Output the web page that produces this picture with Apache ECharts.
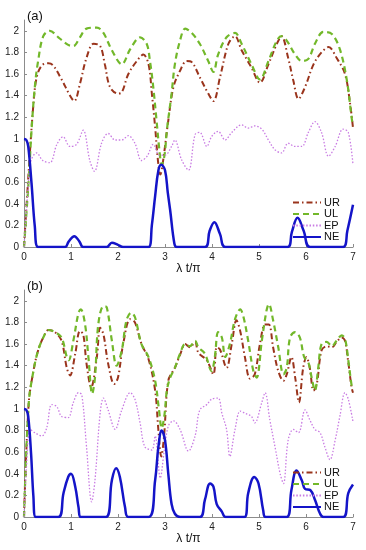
<!DOCTYPE html>
<html><head><meta charset="utf-8">
<script src="https://cdn.jsdelivr.net/npm/echarts@6/dist/echarts.min.js"></script>
<style>html,body{margin:0;padding:0;background:#fff}#c{width:366px;height:550px}</style>
</head><body><div id="c"></div>
<script>
// ---------- Panel (a) ----------
const a_UR_x = [0,0.1,0.2,0.27,0.38,0.52,0.62,0.8,0.98,1.07,1.19,1.33,1.48,1.62,1.72,1.83,2.0,2.08,2.22,2.4,2.54,2.65,2.72,2.79,2.85,2.9,2.96,3.07,3.18,3.32,3.46,3.57,3.74,3.92,4.03,4.17,4.35,4.49,4.63,4.84,5.02,5.2,5.38,5.48,5.62,5.73,5.84,5.98,6.16,6.33,6.48,6.65,6.83,6.94,7];
const a_UR_y = [0,0.7,1.32,1.57,1.68,1.70,1.68,1.55,1.40,1.35,1.51,1.75,1.88,1.86,1.69,1.48,1.42,1.43,1.60,1.72,1.78,1.69,1.42,1.11,0.8,0.67,0.8,1.17,1.48,1.63,1.72,1.71,1.57,1.42,1.35,1.57,1.88,1.95,1.82,1.66,1.52,1.69,1.88,1.95,1.75,1.54,1.37,1.48,1.69,1.80,1.85,1.75,1.60,1.32,1.1];
const a_UL_x = [0,0.1,0.16,0.23,0.3,0.41,0.55,0.73,0.94,1.05,1.19,1.33,1.55,1.69,1.87,2.08,2.26,2.47,2.61,2.68,2.75,2.82,2.88,2.93,2.99,3.04,3.14,3.21,3.32,3.43,3.57,3.74,3.92,4.03,4.13,4.31,4.49,4.63,4.84,5.02,5.2,5.38,5.48,5.59,5.77,5.91,6.05,6.19,6.37,6.55,6.72,6.87,6.97,7];
const a_UL_y = [0,0.62,1.08,1.48,1.72,1.95,2.0,1.94,1.87,1.86,1.94,2.02,2.03,1.98,1.82,1.69,1.83,1.94,1.88,1.72,1.48,1.17,0.9,0.76,0.85,1.08,1.42,1.69,1.91,2.02,1.98,1.88,1.72,1.62,1.78,1.94,1.98,1.88,1.69,1.55,1.72,1.91,1.95,1.91,1.78,1.72,1.74,1.88,1.99,1.97,1.83,1.54,1.2,1.12];
const a_EP_x = [0,0.08,0.15,0.27,0.4,0.55,0.7,0.83,0.98,1.12,1.26,1.4,1.5,1.65,1.79,1.94,2.08,2.22,2.36,2.5,2.62,2.75,2.88,3.0,3.14,3.21,3.35,3.5,3.64,3.74,3.89,3.99,4.13,4.28,4.42,4.63,4.77,4.91,5.06,5.2,5.34,5.48,5.62,5.77,5.91,6.05,6.19,6.33,6.48,6.62,6.79,6.9,7];
const a_EP_y = [0,0.5,0.8,0.87,0.8,0.78,0.95,1.02,0.93,0.95,1.08,0.8,0.7,0.96,1.05,0.99,0.99,1.03,0.96,0.8,0.84,0.95,0.85,0.85,0.93,0.99,0.81,0.71,1.04,1.06,0.93,1.02,1.07,0.99,1.06,1.13,1.10,1.12,1.09,0.99,0.90,0.87,0.96,0.93,0.93,1.06,1.16,1.06,0.84,0.93,1.09,1.06,0.76];
const a_NE_x = [0,0.05,0.09,0.16,0.23,0.3,0.87,0.95,1.07,1.18,1.26,1.76,1.87,2.0,2.11,2.65,2.72,2.79,2.86,2.92,3.0,3.06,3.11,3.2,3.25,3.85,3.95,4.05,4.17,4.29,5.61,5.7,5.82,5.95,6.09,6.79,6.88,7];
const a_NE_y = [1,0.99,0.93,0.59,0.19,0,0,0.05,0.1,0.05,0,0,0.04,0.02,0,0,0.2,0.47,0.71,0.76,0.71,0.5,0.34,0.03,0,0,0.15,0.23,0.12,0,0,0.14,0.27,0.15,0,0,0.15,0.39];

// ---------- Panel (b) ----------
const b_UR_x = [0,0.1,0.2,0.3,0.41,0.52,0.66,0.8,0.91,0.98,1.09,1.19,1.26,1.33,1.43,1.55,1.62,1.69,1.79,1.92,2.0,2.11,2.26,2.36,2.5,2.65,2.79,2.86,2.92,2.98,3.07,3.21,3.32,3.43,3.53,3.64,3.71,3.89,4.03,4.1,4.17,4.31,4.42,4.52,4.6,4.7,4.81,4.91,5.02,5.13,5.21,5.3,5.41,5.52,5.59,5.69,5.77,5.85,5.94,6.01,6.08,6.16,6.23,6.33,6.44,6.55,6.65,6.76,6.83,6.9,6.97,7];
const b_UR_y = [0,1.05,1.35,1.54,1.66,1.73,1.71,1.63,1.38,1.31,1.51,1.72,1.69,1.42,1.2,1.48,1.75,1.69,1.42,1.23,1.29,1.6,1.83,1.8,1.6,1.46,1.17,0.8,0.56,0.75,1.26,1.38,1.5,1.6,1.57,1.62,1.52,1.45,1.32,1.57,1.55,1.38,1.6,1.82,1.72,1.48,1.28,1.32,1.6,1.78,1.78,1.57,1.35,1.26,1.32,1.48,1.29,1.06,1.38,1.48,1.38,1.17,1.23,1.54,1.58,1.57,1.62,1.66,1.63,1.43,1.2,1.15];
const b_UL_x = [0,0.1,0.2,0.3,0.41,0.52,0.66,0.8,0.91,0.95,1.05,1.16,1.21,1.3,1.37,1.45,1.51,1.58,1.69,1.76,1.87,1.97,2.08,2.18,2.28,2.36,2.5,2.65,2.79,2.87,2.93,2.99,3.04,3.11,3.21,3.32,3.43,3.53,3.64,3.71,3.85,3.99,4.06,4.13,4.21,4.28,4.38,4.49,4.6,4.67,4.77,4.88,4.95,5.06,5.16,5.21,5.3,5.41,5.52,5.59,5.66,5.77,5.87,5.96,6.05,6.12,6.19,6.26,6.33,6.44,6.55,6.65,6.76,6.83,6.9,6.97,7];
const b_UL_y = [0,1.05,1.35,1.54,1.66,1.73,1.71,1.66,1.48,1.45,1.63,1.89,1.92,1.78,1.48,1.14,1.29,1.78,1.95,1.94,1.63,1.40,1.54,1.82,1.89,1.85,1.60,1.48,1.26,1.0,0.82,0.95,1.17,1.29,1.38,1.51,1.60,1.58,1.63,1.57,1.51,1.35,1.48,1.71,1.66,1.48,1.60,1.83,1.92,1.85,1.63,1.35,1.29,1.63,1.91,1.97,1.82,1.57,1.32,1.38,1.66,1.71,1.66,1.48,1.43,1.29,1.17,1.38,1.60,1.62,1.58,1.63,1.68,1.65,1.45,1.22,1.18];
const b_EP_x = [0,0.05,0.13,0.23,0.38,0.48,0.59,0.7,0.8,0.94,1.05,1.16,1.23,1.33,1.44,1.51,1.62,1.69,1.79,1.94,2.08,2.26,2.36,2.47,2.57,2.72,2.79,2.9,2.98,3.07,3.18,3.32,3.5,3.64,3.74,3.89,3.99,4.13,4.21,4.31,4.38,4.49,4.6,4.7,4.84,4.91,5.06,5.13,5.23,5.34,5.45,5.52,5.62,5.73,5.84,5.98,6.08,6.19,6.3,6.4,6.51,6.62,6.72,6.83,6.9,7];
const b_EP_y = [0,0.45,0.81,0.78,0.75,0.82,1.04,1.02,0.93,0.92,1.06,1.15,1.13,0.65,0.14,0.34,0.96,1.10,0.99,0.81,0.99,1.15,1.09,0.87,0.65,0.62,0.75,0.36,0.6,0.84,0.89,0.81,0.61,0.75,0.99,1.04,1.09,1.10,0.96,0.81,0.56,0.81,0.98,0.96,0.93,0.87,1.06,1.15,0.9,0.65,0.4,0.31,0.71,0.81,0.78,0.99,0.9,0.81,0.78,0.65,0.53,0.71,0.93,1.15,1.09,0.88];
const b_NE_x = [0,0.05,0.09,0.15,0.2,0.25,0.73,0.84,0.94,1.0,1.09,1.16,1.21,1.74,1.87,1.96,2.04,2.15,2.22,2.65,2.79,2.86,2.93,3.0,3.07,3.14,3.21,3.32,3.74,3.85,3.96,4.03,4.1,4.21,4.29,4.69,4.77,4.9,4.99,5.09,5.14,5.59,5.69,5.8,5.91,5.98,6.09,6.19,6.3,6.37,6.79,6.9,7];
const b_NE_y = [1,0.99,0.93,0.59,0.19,0,0,0.22,0.37,0.4,0.28,0.09,0,0,0.34,0.45,0.37,0.09,0,0,0.34,0.65,0.8,0.71,0.4,0.12,0.03,0,0,0.16,0.31,0.28,0.12,0.05,0,0,0.22,0.37,0.31,0.06,0,0,0.25,0.43,0.34,0.26,0.25,0.16,0.03,0,0,0.22,0.3];

const seriesNames = ['UR','UL','EP','NE'];
const panelLabels = ['(a)','(b)'];
const xName = 'λ t/π';

const zip = (xs, ys) => xs.map((x, i) => [x, ys[i]]);
const styles = {
  UR: {color:'#9a341c', width:2, type:[6,3,1.5,3], smooth:0.35},
  UL: {color:'#72b82a', width:2.2, type:[6,4], smooth:0.35},
  EP: {color:'#c97ce3', width:1.3, type:[1.5,1.8], smooth:0.35},
  NE: {color:'#1414c8', width:2.5, type:'solid', smooth:0.4}
};
const panels = [
  {UR: zip(a_UR_x,a_UR_y), UL: zip(a_UL_x,a_UL_y), EP: zip(a_EP_x,a_EP_y), NE: zip(a_NE_x,a_NE_y)},
  {UR: zip(b_UR_x,b_UR_y), UL: zip(b_UL_x,b_UL_y), EP: zip(b_EP_x,b_EP_y), NE: zip(b_NE_x,b_NE_y)}
];
const gridTops = [20, 290];
const axisColor = '#8c8c8c';
const font = 'Liberation Sans, Arial, sans-serif';

const option = {
  animation:false,
  backgroundColor:'#fff',
  textStyle:{fontFamily:font},
  title: panelLabels.map((t,i)=>({text:t, left:22, top:gridTops[i]-15, textStyle:{fontSize:13, fontWeight:'normal', color:'#111', fontFamily:font}})),
  grid: gridTops.map(t=>({left:24, right:13, top:t, height:227})),
  xAxis: gridTops.map((t,i)=>({
    type:'value', gridIndex:i, min:0, max:7, interval:1,
    name:xName, nameLocation:'middle', nameGap:14,
    nameTextStyle:{fontSize:12, color:'#111', fontFamily:font},
    axisLine:{lineStyle:{color:axisColor, width:1}},
    axisTick:{inside:true, length:3, lineStyle:{color:axisColor}},
    axisLabel:{fontSize:10, color:'#222', margin:5, fontFamily:font},
    splitLine:{show:false}
  })),
  yAxis: gridTops.map((t,i)=>({
    type:'value', gridIndex:i, min:0, max:2.1, interval:0.2,
    axisLine:{show:true, lineStyle:{color:axisColor, width:1}},
    axisTick:{show:true, inside:true, length:3, lineStyle:{color:axisColor}},
    axisLabel:{fontSize:10, color:'#222', margin:5, showMaxLabel:false, fontFamily:font},
    splitLine:{show:false}
  })),
  legend: gridTops.map((t,i)=>({
    orient:'vertical', left:292, top:t+177, data:seriesNames, padding:0,
    itemWidth:28, itemHeight:11, itemGap:0.5,
    itemStyle:{opacity:0, borderWidth:0},
    textStyle:{fontSize:11, color:'#111', lineHeight:11, height:11, verticalAlign:'middle', padding:[0,0,0,-2], fontFamily:font},
    selectedMode:false
  })),
  series: []
};
panels.forEach((p, i) => {
  seriesNames.forEach(n => {
    const s = styles[n];
    option.series.push({
      name:n, type:'line', xAxisIndex:i, yAxisIndex:i, data:p[n],
      showSymbol:false, symbol:'none', smooth:s.smooth, clip:true,
      lineStyle:{color:s.color, width:s.width, type:s.type},
      itemStyle:{color:s.color}
    });
  });
});
const chart = echarts.init(document.getElementById('c'), null, {renderer:'canvas'});
chart.setOption(option);
</script></body></html>
